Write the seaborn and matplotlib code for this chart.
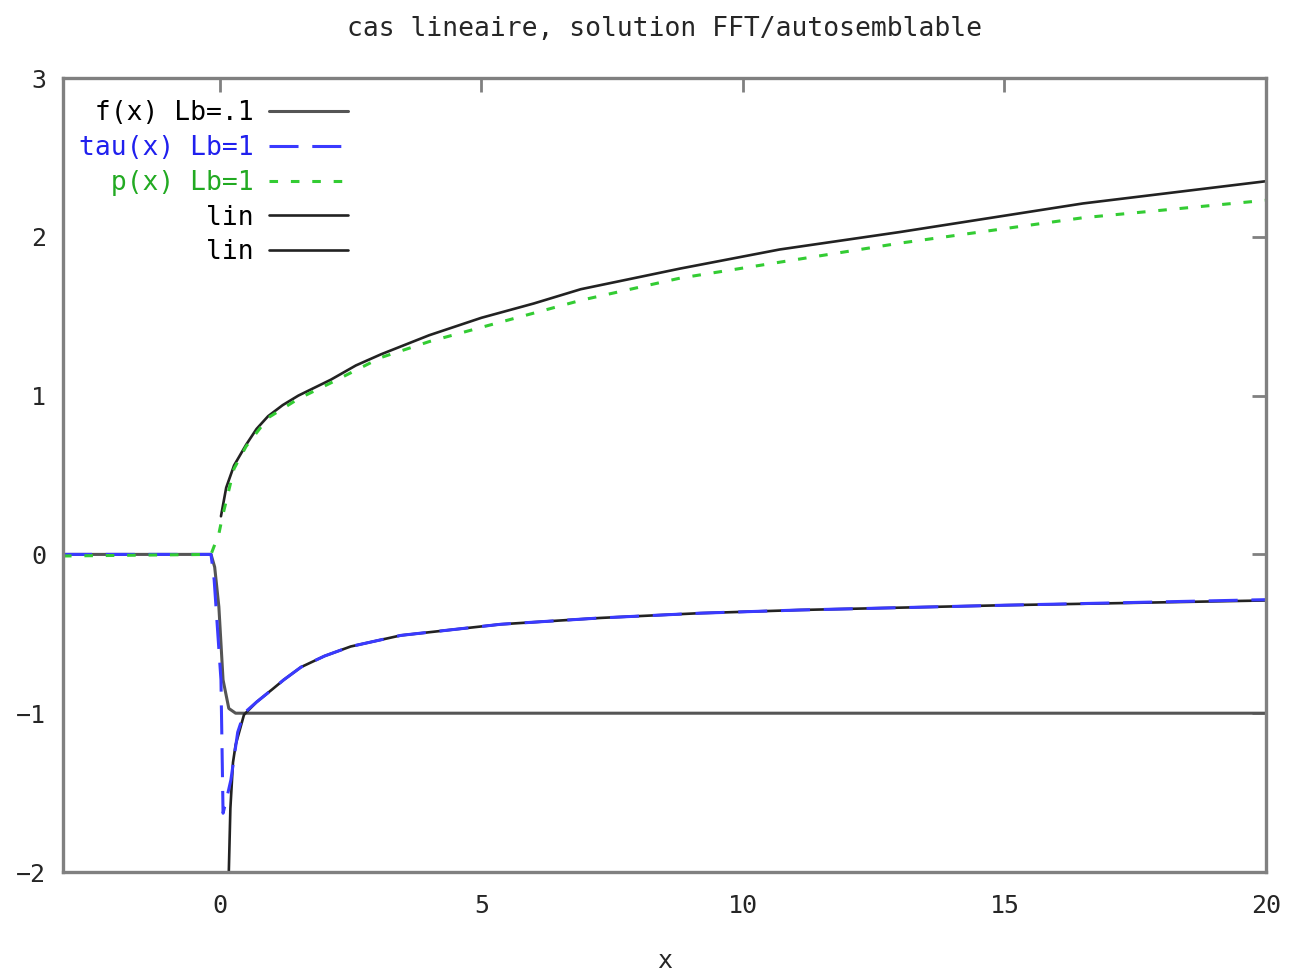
import numpy as np
import pandas as pd
import matplotlib
matplotlib.use("Agg")
import matplotlib.pyplot as plt
import seaborn as sns

# values
f_x = [-3.0, -0.17, -0.10, -0.02, 0.06, 0.17, 0.30, 0.44, 20.0]
f_y = [0.0, 0.0, -0.08, -0.33, -0.79, -0.97, -1.0, -1.0, -1.0]

tau_x = [-3.0, -0.17, -0.11, 0.02, 0.06, 0.12, 0.21, 0.34, 0.46, 0.7, 1.0, 1.22, 1.55,
         2.0, 2.5, 3.46, 5.37, 7.28, 9.19, 11.1, 15.0, 20.0]
tau_y = [0.0, 0.0, -0.16, -0.79, -1.63, -1.55, -1.42, -1.12, -1.0, -0.93, -0.85, -0.79, -0.71,
         -0.64, -0.58, -0.51, -0.44, -0.40, -0.37, -0.35, -0.32, -0.285]

p_x = [-3.0, -0.17, -0.02, 0.05, 0.27, 0.5, 0.92, 1.5, 2.12, 3.08, 4.0, 5.0, 6.9, 8.8,
       10.7, 13.0, 16.5, 20.0]
p_y = [-0.01, 0.0, 0.13, 0.24, 0.54, 0.68, 0.86, 0.98, 1.08, 1.24, 1.34, 1.43, 1.60, 1.74,
       1.84, 1.96, 2.12, 2.23]

lin_up_x = [0.02, 0.12, 0.27, 0.5, 0.7, 0.92, 1.2, 1.5, 2.12, 2.6, 3.08, 4.0, 5.0, 6.0, 6.9,
            8.8, 10.7, 13.0, 16.5, 20.0]
lin_up_y = [0.24, 0.42, 0.56, 0.69, 0.79, 0.87, 0.94, 1.0, 1.10, 1.19, 1.26, 1.38, 1.49, 1.58,
            1.67, 1.80, 1.92, 2.03, 2.21, 2.35]

lin_lo_x = [0.17, 0.2, 0.25, 0.3, 0.46, 0.7, 1.0, 1.22, 1.55, 2.0, 2.5, 3.46, 5.37, 7.28,
            9.19, 11.1, 15.0, 20.0]
lin_lo_y = [-2.0, -1.6, -1.31, -1.2, -1.01, -0.93, -0.85, -0.79, -0.71, -0.64, -0.58, -0.51,
            -0.44, -0.40, -0.37, -0.35, -0.32, -0.29]

labels = ["f(x) Lb=.1", "tau(x) Lb=1", "p(x) Lb=1", "lin", "lin"]
x_ticks = [0, 5, 10, 15, 20]
y_ticks = [-2, -1, 0, 1, 2, 3]

sns.set_style("white")
plt.rcParams['font.family'] = ['DejaVu Sans Mono', 'DejaVu Sans']

fig = plt.figure(figsize=(12.89, 9.73), dpi=100)
ax = fig.add_axes([63 / 1289, 1 - 872 / 973, (1266 - 63) / 1289, (872 - 78) / 973])

blue = '#3a3aff'
green = '#33cc33'
grey = '#555555'
dark = '#222222'

sns.lineplot(x=f_x, y=f_y, color=grey, linewidth=2.2, ax=ax, label=labels[0], sort=False)
sns.lineplot(x=lin_up_x, y=lin_up_y, color=dark, linewidth=1.9, ax=ax, label=labels[3], sort=False)
sns.lineplot(x=lin_lo_x, y=lin_lo_y, color=dark, linewidth=1.9, ax=ax, label=labels[4], sort=False)
sns.lineplot(x=tau_x, y=tau_y, color=blue, linewidth=2.2, ax=ax, label=labels[1], sort=False)
ax.lines[-1].set_dashes((9.5, 4.5))
sns.lineplot(x=p_x, y=p_y, color=green, linewidth=2.2, ax=ax, label=labels[2], sort=False)
ax.lines[-1].set_dashes((2.8, 4.2))

ax.set_xlim(-3, 20)
ax.set_ylim(-2, 3)
ax.set_xticks(x_ticks)
ax.set_yticks(y_ticks)
ax.tick_params(direction='in', length=10, width=2, color='#808080', top=True, right=True,
               labelsize=18)
ax.tick_params(axis='x', pad=16)
ax.tick_params(axis='y', pad=12)
for s in ax.spines.values():
    s.set_color('#808080')
    s.set_linewidth(2.4)

ax.set_title("cas lineaire, solution FFT/autosemblable", fontsize=19, pad=30)
ax.set_xlabel("x", fontsize=18, labelpad=22)
ax.set_ylabel("")

# legend, right-aligned labels like gnuplot
handles, labs = ax.get_legend_handles_labels()
hmap = {}
for h, l in zip(handles, labs):
    hmap.setdefault(l, []).append(h)
hs = [hmap[labels[0]][0], hmap[labels[1]][0], hmap[labels[2]][0], hmap["lin"][0], hmap["lin"][1]]
width = max(len(l) for l in labels)
ls = [l.rjust(width) for l in labels]
leg = ax.legend(hs, ls, loc='upper left', frameon=False, markerfirst=False, fontsize=19,
                handlelength=3.0, handletextpad=0.55, labelspacing=0.33,
                borderaxespad=0.45, bbox_to_anchor=(-0.005, 1.0))
text_colors = ['black', '#2020ee', '#22aa22', 'black', 'black']
for t, c in zip(leg.get_texts(), text_colors):
    t.set_color(c)

fig.savefig("out.png", dpi=100)
